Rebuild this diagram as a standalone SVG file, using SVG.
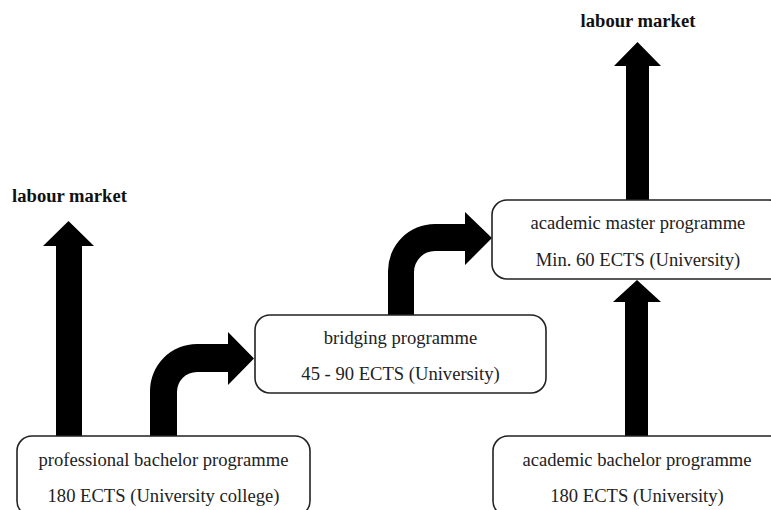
<svg xmlns="http://www.w3.org/2000/svg" width="771" height="510" viewBox="0 0 771 510">
<style>
.box{fill:#fff;stroke:#222;stroke-width:1.6}
text{font-family:Liberation Serif, serif;font-size:18.6px;text-anchor:middle}
.t{fill:#222}
.h{font-weight:bold;fill:#111}
.arr{fill:#000}
</style>
<rect width="771" height="510" fill="#fff"/>
<g id="connectors">
<path class="arr" d="M56,436 L56,246 L43,246 L68.5,221 L94,246 L82,246 L82,436 Z"/>
<path class="arr" d="M150,436 L150,391 A47,47 0 0 1 197,344 L228,344 L228,332 L254,358.5 L228,385 L228,372 L197,372 A20,20 0 0 0 177,392 L177,436 Z"/>
<path class="arr" d="M388,315 L388,271 A47,47 0 0 1 435,224 L465,224 L465,212 L492,238 L465,265 L465,251 L435,251 A21,21 0 0 0 414,272 L414,315 Z"/>
<path class="arr" d="M626,200 L626,66 L614,66 L637.5,42 L661,66 L649,66 L649,200 Z"/>
<path class="arr" d="M625,436 L625,302 L613,302 L637,280 L661,302 L648,302 L648,436 Z"/>
</g>
<g id="label-left">
<text class="h" x="69.5" y="202">labour market</text>
</g>
<g id="label-top">
<text class="h" x="638" y="27">labour market</text>
</g>
<g id="professional-bachelor">
<rect class="box" x="17" y="436" width="293" height="80" rx="15"/>
<text class="t" x="163.5" y="466">professional bachelor programme</text>
<text class="t" x="163.5" y="502">180 ECTS (University college)</text>
</g>
<g id="bridging">
<rect class="box" x="255" y="315" width="291" height="78" rx="15"/>
<text class="t" x="400.5" y="344">bridging programme</text>
<text class="t" x="400.5" y="380">45 - 90 ECTS (University)</text>
</g>
<g id="academic-master">
<rect class="box" x="492" y="200" width="292" height="79" rx="15"/>
<text class="t" x="638" y="229">academic master programme</text>
<text class="t" x="638" y="266">Min. 60 ECTS (University)</text>
</g>
<g id="academic-bachelor">
<rect class="box" x="493" y="436" width="292" height="80" rx="15"/>
<text class="t" x="637" y="466">academic bachelor programme</text>
<text class="t" x="637" y="502">180 ECTS (University)</text>
</g>
</svg>
